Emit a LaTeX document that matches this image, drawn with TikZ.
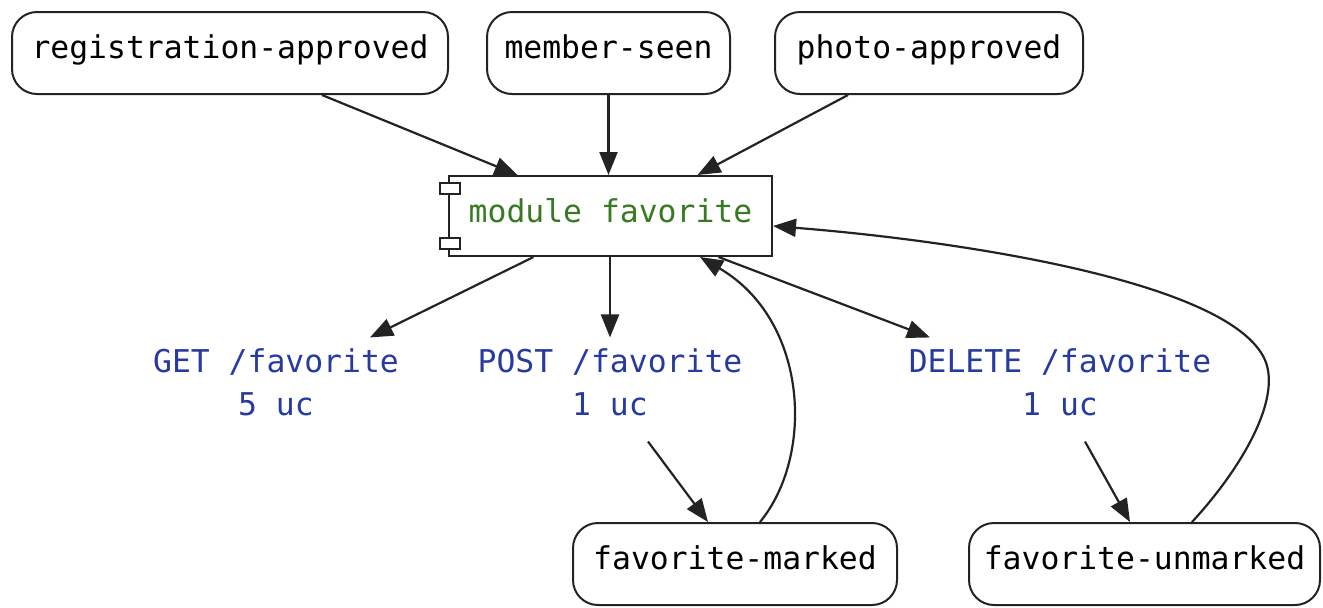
\documentclass[tikz,border=0pt]{standalone}
\usepackage{fontspec}
\setmonofont{DejaVu Sans Mono}
\usetikzlibrary{arrows.meta,calc}
\definecolor{modgreen}{RGB}{56,122,34}
\definecolor{epblue}{RGB}{38,58,160}
\definecolor{ln}{RGB}{35,35,35}
\tikzset{
  evbox/.style={draw=ln,line width=1pt,rounded corners=12.5pt,minimum height=41pt,inner sep=0pt,
    text height=10pt,text depth=5pt,
    font=\ttfamily\fontsize{15.7}{21.5}\selectfont,text=black},
  modbox/.style={draw=ln,line width=1pt,fill=white,minimum width=161.5pt,minimum height=40pt,inner sep=0pt,
    text height=10.5pt,text depth=4.5pt,
    font=\ttfamily\fontsize{15.7}{21.5}\selectfont,text=modgreen},
  eplabel/.style={align=center,inner sep=5.5pt,font=\ttfamily\fontsize{15.7}{21.5}\selectfont,text=epblue},
  conn/.style={draw=ln,line width=1.1pt,-{Triangle[length=11.5pt,width=9pt]}},
  tab/.style={draw=ln,line width=1pt,fill=white}
}
\begin{document}
\begin{tikzpicture}[x=0.5pt,y=-0.5pt]
\useasboundingbox (0,0) rectangle (1323,607);
% event boxes top
\node[evbox,minimum width=218pt] (reg) at (230,53) {registration-approved};
\node[evbox,minimum width=121.5pt] (member) at (608.5,53) {member-seen};
\node[evbox,minimum width=154pt] (photo) at (929,53) {photo-approved};
% module
\node[modbox] (module) at (610.5,216) {module favorite};
\draw[tab] (440,183) rectangle (460,194);
\draw[tab] (440,238) rectangle (460,249);
% endpoint labels
\node[eplabel] (get) at (276,382.5) {GET /favorite\\5 uc};
\node[eplabel] (post) at (610,382.5) {POST /favorite\\1 uc};
\node[eplabel] (del) at (1060,382.5) {DELETE /favorite\\1 uc};
% bottom events
\node[evbox,minimum width=162pt] (marked) at (735,564) {favorite-marked};
\node[evbox,minimum width=175.5pt] (unmarked) at (1144.5,564) {favorite-unmarked};
% connectors
\draw[conn] ([xshift=46pt]reg.south) -- ([xshift=-46.5pt]module.north);
\draw[conn] (member.south) -- (member.south |- module.north);
\draw[conn] ([xshift=-40.5pt]photo.south) -- ([xshift=43.5pt]module.north);
\draw[conn] ([xshift=-38.5pt]module.south) -- ([xshift=47pt]get.north);
\draw[conn] (module.south -| post.north) -- (post.north);
\draw[conn] ([xshift=54pt]module.south) -- ([xshift=-65pt]del.north);
\draw[conn] ([xshift=19pt,yshift=-7pt]post.south) -- ([xshift=-13.5pt]marked.north);
\draw[conn] ([xshift=12.5pt,yshift=-7pt]del.south) -- ([xshift=-7.25pt]unmarked.north);
\draw[conn] ([xshift=12.5pt]marked.north) .. controls (815,455) and (808,320) .. ([xshift=44.75pt]module.south);
\draw[conn] ([xshift=23.75pt]unmarked.north) .. controls (1240,470) and (1282,400) .. (1265,360)
   .. controls (1230,280) and (950,240) .. ([yshift=-5pt]module.east);
\end{tikzpicture}
\end{document}
